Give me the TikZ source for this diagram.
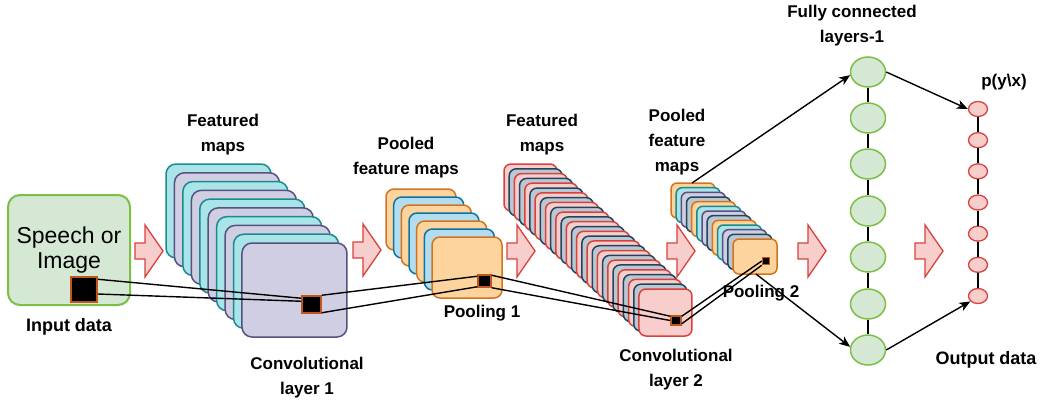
\documentclass[tikz,border=0pt]{standalone}
\usepackage{fontspec}
\setmainfont{Liberation Sans}
\usetikzlibrary{arrows.meta,shapes.geometric}
\definecolor{grnF}{HTML}{D5E8D4}
\definecolor{grnS}{HTML}{7BBF45}
\definecolor{cyaF}{HTML}{A8E4E8}
\definecolor{cyaS}{HTML}{1A8A90}
\definecolor{lavF}{HTML}{D0CEE2}
\definecolor{lavS}{HTML}{56517E}
\definecolor{orgF}{HTML}{FDD49E}
\definecolor{orgS}{HTML}{D4731E}
\definecolor{bluF}{HTML}{B1DDF0}
\definecolor{bluS}{HTML}{10739E}
\definecolor{pnkF}{HTML}{F8CECC}
\definecolor{redS}{HTML}{D8413C}
\definecolor{stlF}{HTML}{BAC8D3}
\definecolor{stlS}{HTML}{23445D}
\definecolor{sqS}{HTML}{C0561B}
\begin{document}
\begin{tikzpicture}[x=1pt,y=-1pt,
  lbl/.style={font=\fontsize{17}{25}\selectfont\bfseries, align=center, inner sep=0pt},
  lblbig/.style={font=\fontsize{18}{25}\selectfont\bfseries, align=center, inner sep=0pt},
  map/.style={line width=1.5pt},
  sq/.style={draw=sqS, fill=black, line width=1.5pt, inner sep=0pt, rectangle},
  conn/.style={line width=1.4pt, black},
  arr/.style={line width=1.4pt, black, -{Stealth[length=11pt,width=9pt,inset=3pt]}},
  fatstyle/.style={fill=pnkF, draw=redS, line width=1.3pt, line join=miter},
  fcnode/.style={ellipse, draw=grnS, fill=grnF, line width=1.5pt, minimum width=35pt, minimum height=30pt, inner sep=0pt},
  outnode/.style={ellipse, draw=redS, fill=pnkF, line width=1.3pt, minimum width=19pt, minimum height=15pt, inner sep=0pt},
  fatarrow/.pic={\draw[fatstyle] (0,-8) -- (10,-8) -- (10,-26) -- (28,0) -- (10,26) -- (10,8) -- (0,8) -- cycle;}
]
\useasboundingbox (0,0) rectangle (1042,402);

% input box
\node[draw=grnS, fill=grnF, line width=2pt, rounded corners=12pt, minimum width=122pt, minimum height=110pt,
      font=\fontsize{23}{25}\selectfont, align=center, inner sep=0pt] (inbox) at (69,250) {Speech or\\Image};

% conv layer 1 stack
\foreach \i in {0,...,9}{
  \pgfmathtruncatemacro\m{mod(\i,2)}
  \ifnum\m=0 \def\F{cyaF}\def\S{cyaS}\else \def\F{lavF}\def\S{lavS}\fi
  \draw[map, fill=\F, draw=\S, rounded corners=10pt] ({166+\i*8.444},{164+\i*8.778}) rectangle ++(105,94);
}
% pooled 1 stack
\foreach \i in {0,...,6}{
  \pgfmathtruncatemacro\m{mod(\i,2)}
  \ifnum\m=0 \def\F{orgF}\def\S{orgS}\else \def\F{bluF}\def\S{bluS}\fi
  \draw[map, fill=\F, draw=\S, rounded corners=8pt] ({386+\i*7.667},{189+\i*8}) rectangle ++(70,61);
}
% conv layer 2 stack
\foreach \i in {0,...,26}{
  \pgfmathtruncatemacro\m{mod(\i,2)}
  \ifnum\m=0 \def\F{pnkF}\def\S{redS}\else \def\F{stlF}\def\S{stlS}\fi
  \draw[map, fill=\F, draw=\S, rounded corners=7pt] ({504+\i*5.192},{164+\i*4.808}) rectangle ++(53,47);
}
% pooled 2 stack
\foreach \i in {0,...,12}{
  \pgfmathtruncatemacro\m{mod(\i,4)}
  \ifcase\m \def\F{orgF}\def\S{orgS}\or \def\F{cyaF}\def\S{cyaS}\or \def\F{lavF}\def\S{lavS}\else \def\F{stlF}\def\S{stlS}\fi
  \draw[map, fill=\F, draw=\S, rounded corners=6pt] ({671+\i*5.167},{183+\i*4.667}) rectangle ++(44,35);
}

% fat arrows
\pic at (135,251) {fatarrow};
\pic at (353,250) {fatarrow};
\pic at (507,251) {fatarrow};
\pic at (667,251) {fatarrow};
\pic at (798,251) {fatarrow};
\pic at (915,251) {fatarrow};

% black squares
\node[sq, minimum width=26pt, minimum height=25pt] (in) at (84,289.5) {};
\node[sq, minimum width=19pt, minimum height=17pt] (c1) at (311.5,304.5) {};
\node[sq, minimum width=13pt, minimum height=12pt] (p1) at (484.5,281) {};
\node[sq, minimum width=10pt, minimum height=9pt] (c2) at (676,320.5) {};
\node[sq, minimum width=7pt, minimum height=7pt] (p2) at (766,261) {};

% connector lines
\draw[conn] ([yshift=-3pt]in.north east) -- ([yshift=-3pt]c1.north west);
\draw[conn] ([yshift=-4.5pt]in.east) -- ([yshift=-6pt]c1.north west);
\draw[conn] (c1.north east) -- ([yshift=-2pt]p1.north west);
\draw[conn] ([yshift=1pt]c1.south east) -- ([yshift=1pt]p1.south west);
\draw[conn] ([yshift=-1pt]p1.north east) -- ([yshift=-1pt]c2.north west);
\draw[conn] (p1.south east) -- (c2.west);
\draw[conn] ([yshift=-1pt]c2.north east) -- (p2.west);
\draw[conn] ([yshift=2pt]c2.south east) -- (p2.south west);

% fully connected nodes
\foreach \k/\yy in {1/72,2/118,3/164,4/211,5/257,6/304,7/350}{
  \node[fcnode] (fc\k) at (868,\yy) {};
}
\foreach \k in {1,...,7}{
  \node[outnode] (out\k) at (978,{109+(\k-1)*31.17}) {};
}
\foreach \a/\b in {1/2,2/3,3/4,4/5,5/6,6/7}{
  \draw[conn] (fc\a.south) -- (fc\b.north);
  \draw[conn] (out\a.south) -- (out\b.north);
}

\coordinate (p2top) at (692,183);
\coordinate (p2bot) at (756,274);
\draw[arr] (p2top) -- (fc1.190);
\draw[arr] (p2bot) -- (fc7.170);
\draw[arr] (fc1.east) -- (out1.west);
\draw[arr] (fc7.east) -- (out7.215);

% labels
\node[lblbig] (lin) at (69,327) {Input data};
\node[lbl] (lf1) at (223,134.5) {Featured\\maps};
\node[lbl] (lc1) at (307,378) {Convolutional\\layer 1};
\node[lbl] (lp1) at (406,157.5) {Pooled\\feature maps};
\node[lbl] (lpo1) at (482,313) {Pooling 1};
\node[lbl] (lf2) at (542,134.5) {Featured\\maps};
\node[lbl] (lc2) at (676,369.5) {Convolutional\\layer 2};
\node[lbl] (lp2) at (677,142) {Pooled\\feature\\maps};
\node[lbl] (lpo2) at (761,293) {Pooling 2};
\node[lbl] (lfc) at (852,25.5) {Fully connected\\layers-1};
\node[lbl] (lpy) at (1004,82) {p(y\textbackslash x)};
\node[lblbig] (lout) at (986,360) {Output data};
\end{tikzpicture}
\end{document}
